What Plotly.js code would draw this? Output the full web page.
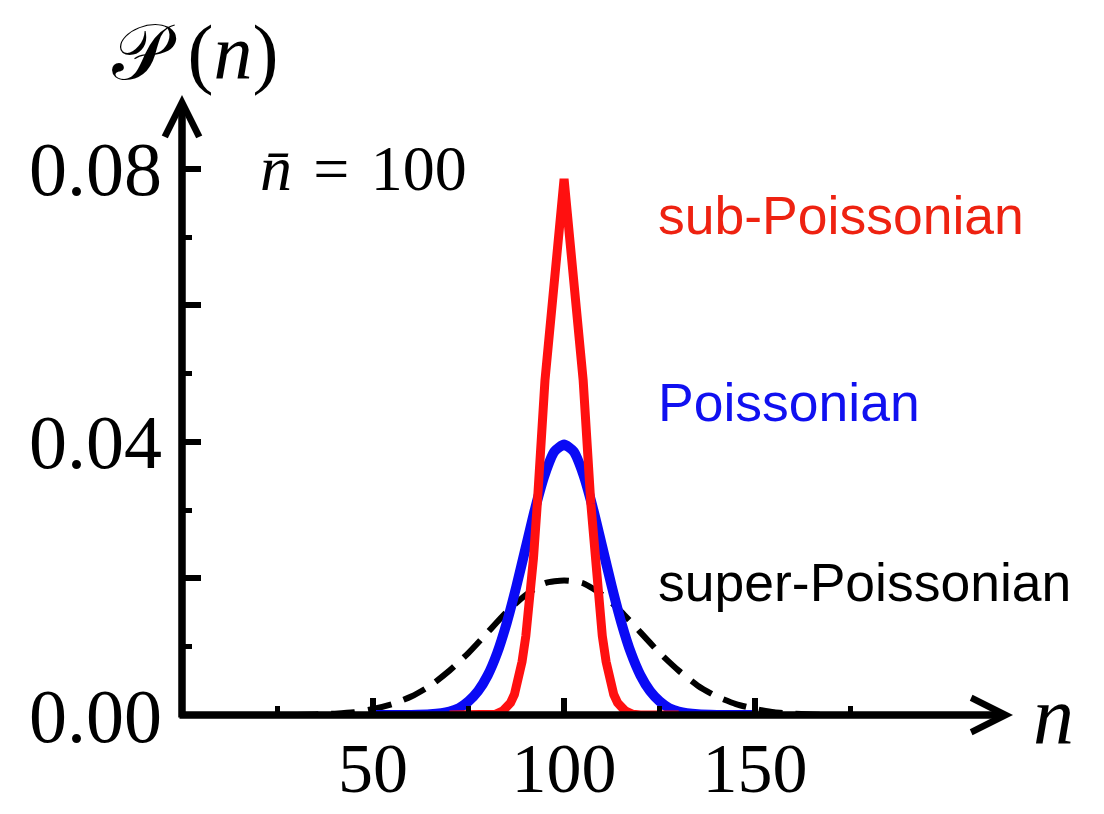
<!DOCTYPE html>
<html>
<head>
<meta charset="utf-8">
<script src="https://cdn.plot.ly/plotly-3.0.1.min.js"></script>
<style>html,body{margin:0;padding:0;background:#fff;}#chart{width:1104px;height:814px;}</style>
</head>
<body>
<div id="chart"></div>
<script>
// sub-Poissonian distribution
const nSub = [70, 80, 82, 84, 86, 87, 88, 89, 90, 91, 92, 93, 95, 100, 105, 107, 108, 109, 110, 111, 112, 113, 114, 116, 118, 120, 130];
const pSub = [0, 0, 0.0001, 0.0006, 0.0018, 0.0030, 0.0050, 0.0078, 0.0116, 0.0165, 0.0230, 0.0310, 0.0490, 0.0785, 0.0490, 0.0310, 0.0230, 0.0165, 0.0116, 0.0078, 0.0050, 0.0030, 0.0018, 0.0006, 0.0001, 0, 0];

// Poissonian distribution
const nPoi = [50, 60, 65, 70, 72.5, 75, 77.5, 80, 82.5, 85, 87.5, 90, 92.5, 95, 97.5, 100, 102.5, 105, 107.5, 110, 112.5, 115, 117.5, 120, 122.5, 125, 127.5, 130, 135, 140, 150];
const pPoi = [0, 0, 0.0001, 0.0005, 0.0010, 0.0020, 0.0035, 0.0058, 0.0091, 0.0135, 0.0188, 0.0246, 0.0304, 0.0353, 0.0386, 0.0396, 0.0386, 0.0353, 0.0304, 0.0246, 0.0188, 0.0135, 0.0091, 0.0058, 0.0035, 0.0020, 0.0010, 0.0005, 0.0001, 0, 0];

// super-Poissonian distribution
const nSup = [10, 20, 30, 40, 45, 50, 55, 60, 65, 70, 75, 80, 85, 90, 95, 100, 105, 110, 115, 120, 125, 130, 135, 140, 145, 150, 155, 160, 170, 180, 190];
const pSup = [0, 0, 0, 0.0002, 0.0004, 0.0009, 0.0016, 0.0027, 0.0043, 0.0065, 0.0091, 0.0121, 0.0151, 0.0176, 0.0193, 0.0197, 0.0193, 0.0176, 0.0151, 0.0121, 0.0091, 0.0065, 0.0043, 0.0027, 0.0016, 0.0009, 0.0004, 0.0002, 0, 0, 0];

// axis ticks
const xMajor = [50, 100, 150];
const xMajorText = ['50', '100', '150'];
const xMinor = [25, 75, 125, 175];
const yMajor = [0, 0.02, 0.04, 0.06, 0.08];
const yMajorText = ['0.00', '', '0.04', '', '0.08'];
const yMinor = [0.01, 0.03, 0.05, 0.07];

const serif = 'Liberation Serif, Times New Roman, DejaVu Serif, serif';
const sans = 'Liberation Sans, Arial, Helvetica, sans-serif';

const traces = [
  {x: nSup, y: pSup, type: 'scatter', mode: 'lines',
   line: {color: '#000000', width: 6, dash: '24px,13px', shape: 'spline', smoothing: 0.6}},
  {x: nPoi, y: pPoi, type: 'scatter', mode: 'lines',
   line: {color: '#0a0af5', width: 10, shape: 'spline', smoothing: 0.6}},
  {x: nSub, y: pSub, type: 'scatter', mode: 'lines',
   line: {color: '#ff1010', width: 9}}
];

const W = 1104, H = 814, L = 182, R = 91, T = 95, B = 99;
const plotW = W - L - R, plotH = H - T - B;

const layout = {
  width: W, height: H, autosize: false,
  margin: {l: L, r: R, t: T, b: B, pad: 0},
  paper_bgcolor: '#ffffff', plot_bgcolor: '#ffffff',
  showlegend: false,
  xaxis: {
    range: [0, 217.5], showgrid: false, zeroline: false, showline: false,
    ticks: 'inside', ticklen: 17, tickwidth: 6, tickcolor: '#000',
    tickmode: 'array', tickvals: xMajor, ticktext: xMajorText,
    tickfont: {family: serif, size: 70, color: '#000'},
    ticklabelstandoff: 6,
    minor: {tickmode: 'array', tickvals: xMinor, ticks: 'inside', ticklen: 9, tickwidth: 5, tickcolor: '#000', showgrid: false},
    fixedrange: true
  },
  yaxis: {
    range: [0, 0.0908], showgrid: false, zeroline: false, showline: false,
    ticks: 'inside', ticklen: 19, tickwidth: 6, tickcolor: '#000',
    tickmode: 'array', tickvals: yMajor, ticktext: yMajorText,
    tickfont: {family: serif, size: 76, color: '#000'},
    ticklabelstandoff: 19,
    minor: {tickmode: 'array', tickvals: yMinor, ticks: 'inside', ticklen: 10, tickwidth: 5, tickcolor: '#000', showgrid: false},
    fixedrange: true
  },
  annotations: [
    // x axis line with arrow
    {xref: 'paper', yref: 'paper', x: 1, y: 0, axref: 'pixel', ayref: 'pixel', ax: -(plotW + 4), ay: 0,
     text: '', showarrow: true, arrowhead: 5, arrowsize: 0.9, arrowwidth: 7.5, arrowcolor: '#000', standoff: 0},
    // y axis line with arrow
    {xref: 'paper', yref: 'paper', x: 0, y: 1, axref: 'pixel', ayref: 'pixel', ax: 0, ay: plotH + 4,
     text: '', showarrow: true, arrowhead: 5, arrowsize: 0.9, arrowwidth: 7.5, arrowcolor: '#000', standoff: 0},
    {xref: 'paper', yref: 'paper', x: (195 - L) / plotW, y: (H - B - 52) / plotH, xanchor: 'center', yanchor: 'middle',
     text: '\uD835\uDCAB (<i>n</i>)', showarrow: false, font: {family: serif, size: 78, color: '#000'}},
    {xref: 'paper', yref: 'paper', x: (1053 - L) / plotW, y: 0, xanchor: 'center', yanchor: 'middle',
     text: '<i>n</i>', showarrow: false, font: {family: serif, size: 82, color: '#000'}},
    {xref: 'paper', yref: 'paper', x: (258 - L) / plotW, y: (H - B - 168) / plotH, xanchor: 'left', yanchor: 'middle',
     text: '<i>n\u0304</i>\u2004=\u2004100', showarrow: false, font: {family: serif, size: 64, color: '#000'}},
    {xref: 'paper', yref: 'paper', x: (656 - L) / plotW, y: (H - B - 215) / plotH, xanchor: 'left', yanchor: 'middle',
     text: 'sub-Poissonian', showarrow: false, font: {family: sans, size: 53.5, color: '#ee2211'}},
    {xref: 'paper', yref: 'paper', x: (656 - L) / plotW, y: (H - B - 402) / plotH, xanchor: 'left', yanchor: 'middle',
     text: 'Poissonian', showarrow: false, font: {family: sans, size: 53.5, color: '#1010f0'}},
    {xref: 'paper', yref: 'paper', x: (656 - L) / plotW, y: (H - B - 582) / plotH, xanchor: 'left', yanchor: 'middle',
     text: 'super-Poissonian', showarrow: false, font: {family: sans, size: 53.5, color: '#000'}}
  ]
};

Plotly.newPlot('chart', traces, layout, {staticPlot: true, displayModeBar: false});
</script>
</body>
</html>
